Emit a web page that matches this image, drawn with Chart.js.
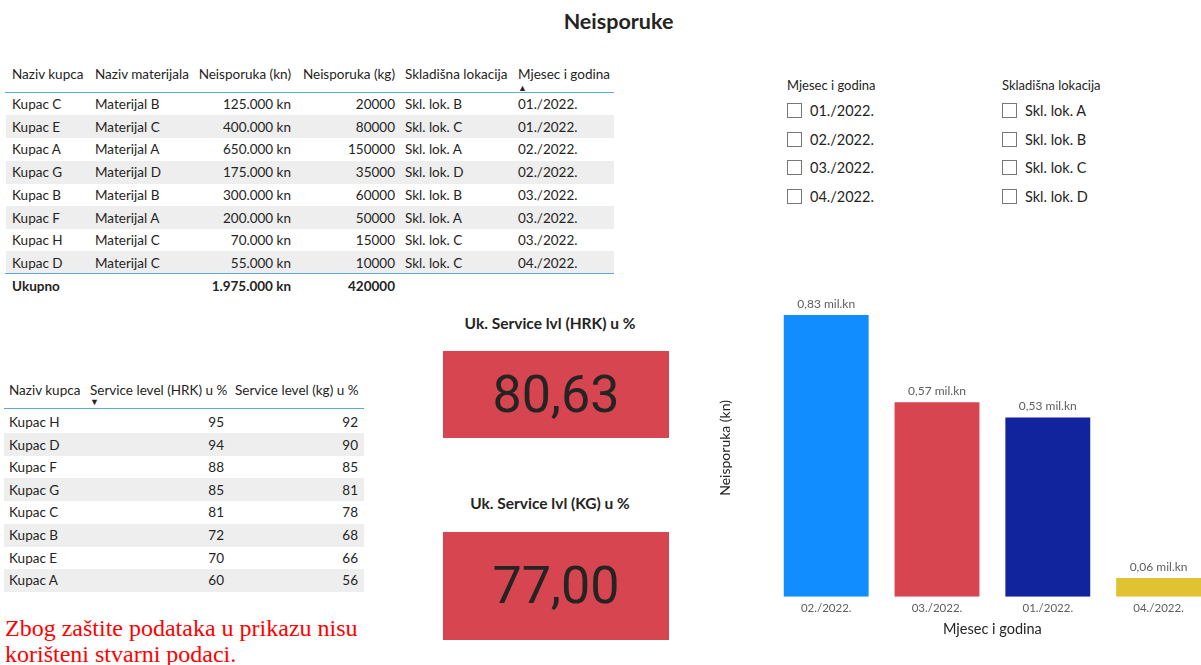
<!DOCTYPE html>
<html>
<head>
<meta charset="utf-8">
<script src="https://cdn.jsdelivr.net/npm/chart.js@4.4.1/dist/chart.umd.min.js"></script>
<style>
  html, body { margin: 0; padding: 0; background: #fff; }
  body { width: 1201px; height: 665px; overflow: hidden; position: relative; font-family: "Lato", "Noto Sans", sans-serif; color: #252423; }
  .abs { position: absolute; white-space: nowrap; }
  .cell { position: absolute; white-space: nowrap; font-size: 13.5px; line-height: 16px; }
  .band { position: absolute; background: #eeeeee; }
  .hline { position: absolute; height: 1px; background: #5aa7e6; }
  .card { position: absolute; background: #d64550; text-align: center; font-family: "Roboto", sans-serif; font-size: 52px; color: #252423; }
  .ctitle { position: absolute; text-align: center; font-weight: bold; font-size: 15.5px; }
  .box { position: absolute; width: 13px; height: 13px; border: 1px solid #777; }
</style>
</head>
<body>
<div class="abs" style="left:0;width:1201px;top:8px;text-align:center;font-weight:bold;font-size:21.5px;padding-left:36px;box-sizing:border-box;">Neisporuke</div>
<div id="t1"></div>
<div id="t2"></div>
<div id="cards"></div>
<div id="slicers"></div>
<div class="abs" style="left:5px;top:615px;font-family:'Liberation Serif',serif;font-size:24px;line-height:26px;color:#ff0000;">Zbog zaštite podataka u prikazu nisu<br>korišteni stvarni podaci.</div>
<div class="abs" style="left:705px;top:293px;width:509px;height:349px;">
  <canvas id="chart1" width="509" height="349"></canvas>
</div>
<script>
// detail table
const custs = ["Kupac C", "Kupac E", "Kupac A", "Kupac G", "Kupac B", "Kupac F", "Kupac H", "Kupac D"];
const materials = ["Materijal B", "Materijal C", "Materijal A", "Materijal D", "Materijal B", "Materijal A", "Materijal C", "Materijal C"];
const missKn = [125000, 400000, 650000, 175000, 300000, 200000, 70000, 55000];
const missKg = [20000, 80000, 150000, 35000, 60000, 50000, 15000, 10000];
const locations = ["Skl. lok. B", "Skl. lok. C", "Skl. lok. A", "Skl. lok. D", "Skl. lok. B", "Skl. lok. A", "Skl. lok. C", "Skl. lok. C"];
const rowMonths = ["01./2022.", "01./2022.", "02./2022.", "02./2022.", "03./2022.", "03./2022.", "03./2022.", "04./2022."];

// service level table
const svcCusts = ["Kupac H", "Kupac D", "Kupac F", "Kupac G", "Kupac C", "Kupac B", "Kupac E", "Kupac A"];
const svcHrk = [95, 94, 88, 85, 81, 72, 70, 60];
const svcKg = [92, 90, 85, 81, 78, 68, 66, 56];

// cards
const cardTitles = ["Uk. Service lvl (HRK) u %", "Uk. Service lvl (KG) u %"];
const cardValues = ["80,63", "77,00"];

// slicers
const slicerMonths = ["01./2022.", "02./2022.", "03./2022.", "04./2022."];
const slicerLocs = ["Skl. lok. A", "Skl. lok. B", "Skl. lok. C", "Skl. lok. D"];

// bar chart
const barMonths = ["02./2022.", "03./2022.", "01./2022.", "04./2022."];
const barValues = [825000, 570000, 525000, 55000];
const barColors = ["#118dff", "#d64550", "#12239e", "#e0c232"];

const fmtKn = v => v.toLocaleString("de-DE") + " kn";

function cell(parent, text, x, y, w, align, extra) {
    const d = document.createElement("div");
    d.className = "cell";
    d.textContent = text;
    d.style.left = x + "px";
    d.style.top = (y - 8) + "px";
    if (w) { d.style.width = w + "px"; }
    if (align) { d.style.textAlign = align; }
    if (extra) { Object.assign(d.style, extra); }
    parent.appendChild(d);
}
function block(parent, cls, x, y, w, h) {
    const d = document.createElement("div");
    d.className = cls;
    d.style.left = x + "px"; d.style.top = y + "px"; d.style.width = w + "px";
    if (h) { d.style.height = h + "px"; }
    parent.appendChild(d);
}

// first table
const t1 = document.getElementById("t1");
const rowH = 22.7;
for (let i = 0; i < custs.length; i++) {
    if (i % 2 === 1) { block(t1, "band", 6, 104 + i * rowH - 11.5, 608, 23); }
}
cell(t1, "Naziv kupca", 12, 74);
cell(t1, "Naziv materijala", 95, 74);
cell(t1, "Neisporuka (kn)", 180, 74, 111, "right");
cell(t1, "Neisporuka (kg)", 290, 74, 105, "right");
cell(t1, "Skladišna lokacija", 405, 74);
cell(t1, "Mjesec i godina", 518, 74);
cell(t1, "\u25B2", 518, 88, null, null, { fontSize: "9px" });
block(t1, "hline", 5, 92, 609);
for (let i = 0; i < custs.length; i++) {
    const y = 104 + i * rowH;
    cell(t1, custs[i], 12, y);
    cell(t1, materials[i], 95, y);
    cell(t1, fmtKn(missKn[i]), 180, y, 111, "right");
    cell(t1, String(missKg[i]), 290, y, 105, "right");
    cell(t1, locations[i], 405, y);
    cell(t1, rowMonths[i], 518, y);
}
block(t1, "hline", 5, 273, 609);
const totKn = missKn.reduce((a, b) => a + b, 0);
const totKg = missKg.reduce((a, b) => a + b, 0);
cell(t1, "Ukupno", 12, 286, null, null, { fontWeight: "bold" });
cell(t1, fmtKn(totKn), 180, 286, 111, "right", { fontWeight: "bold" });
cell(t1, String(totKg), 290, 286, 105, "right", { fontWeight: "bold" });

// second table
const t2 = document.getElementById("t2");
const rowH2 = 22.6;
for (let i = 0; i < svcCusts.length; i++) {
    if (i % 2 === 1) { block(t2, "band", 4, 422 + i * rowH2 - 11.5, 360, 23); }
}
cell(t2, "Naziv kupca", 9, 390);
cell(t2, "Service level (HRK) u %", 90, 390);
cell(t2, "Service level (kg) u %", 235, 390);
cell(t2, "\u25BC", 90, 402, null, null, { fontSize: "9px" });
block(t2, "hline", 4, 408, 360);
for (let i = 0; i < svcCusts.length; i++) {
    const y = 422 + i * rowH2;
    cell(t2, svcCusts[i], 9, y);
    cell(t2, String(svcHrk[i]), 120, y, 104, "right");
    cell(t2, String(svcKg[i]), 250, y, 108, "right");
}

// cards
const cards = document.getElementById("cards");
const cardTops = [351, 532];
const cardH = [87, 108];
const titleY = [314, 494];
for (let i = 0; i < cardValues.length; i++) {
    const t = document.createElement("div");
    t.className = "ctitle";
    t.style.left = "430px"; t.style.width = "240px"; t.style.top = titleY[i] + "px";
    t.textContent = cardTitles[i];
    cards.appendChild(t);
    const c = document.createElement("div");
    c.className = "card";
    c.style.left = "443px"; c.style.width = "226px";
    c.style.top = cardTops[i] + "px"; c.style.height = cardH[i] + "px";
    c.style.lineHeight = cardH[i] + "px";
    c.textContent = cardValues[i];
    cards.appendChild(c);
}

// slicers
const sl = document.getElementById("slicers");
function slicer(x, title, items) {
    cell(sl, title, x, 85, null, null, { fontSize: "13px" });
    items.forEach((it, i) => {
        const y = 111 + i * 28.7;
        block(sl, "box", x, y - 8, 13, 13);
        cell(sl, it, x + 23, y, null, null, { fontSize: "14.5px" });
    });
}
slicer(787, "Mjesec i godina", slicerMonths);
slicer(1002, "Skladišna lokacija", slicerLocs);

// data labels above bars
const barLabels = {
    id: "barLabels",
    afterDatasetsDraw(chart) {
        const ctx = chart.ctx;
        const meta = chart.getDatasetMeta(0);
        ctx.save();
        ctx.font = "12px Lato, sans-serif";
        ctx.fillStyle = "#605e5c";
        ctx.textAlign = "center";
        ctx.textBaseline = "bottom";
        meta.data.forEach((bar, i) => {
            const v = Math.round(barValues[i] / 1e4) / 100;
            ctx.fillText(v.toFixed(2).replace(".", ",") + " mil.kn", bar.x, bar.y - 5);
        });
        ctx.restore();
    }
};

new Chart("chart1", {
    type: "bar",
    data: {
        labels: barMonths,
        datasets: [{
            label: "Neisporuka (kn)",
            data: barValues,
            backgroundColor: barColors,
            categoryPercentage: 1,
            barPercentage: 0.766
        }]
    },
    options: {
        responsive: false,
        animation: false,
        layout: { padding: { top: 6, left: 8, right: 0, bottom: 0 } },
        plugins: { legend: { display: false }, tooltip: { enabled: false } },
        scales: {
            x: {
                grid: { display: false, drawTicks: false },
                border: { display: false },
                ticks: { color: "#605e5c", font: { family: "Lato", size: 11.5 }, padding: 5 },
                title: { display: true, text: "Mjesec i godina", color: "#252423", font: { family: "Lato", size: 14.5 }, padding: { top: 0 } }
            },
            y: {
                min: 0,
                max: 872000,
                grid: { display: false },
                border: { display: false },
                ticks: { display: false },
                title: { display: true, text: "Neisporuka (kn)", color: "#252423", font: { family: "Lato", size: 14 }, padding: { bottom: 29 } }
            }
        }
    },
    plugins: [barLabels]
});
</script>
</body>
</html>
